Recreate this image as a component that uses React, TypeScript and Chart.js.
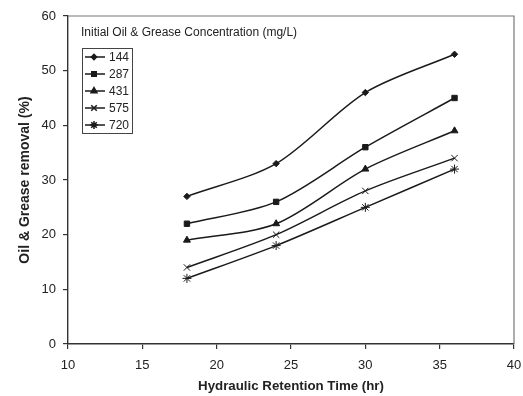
import React, { useEffect, useRef } from "react";
import { Chart, registerables } from "chart.js";
import { drawPoint } from "chart.js/helpers";

Chart.register(...registerables);

const hrt = [18, 24, 30, 36];
const seriesLabels = ["144", "287", "431", "575", "720"];
const s144 = [27, 33, 46, 53];
const s287 = [22, 26, 36, 45];
const s431 = [19, 22, 32, 39];
const s575 = [14, 20, 28, 34];
const s720 = [12, 18, 25, 32];
const seriesValues = [s144, s287, s431, s575, s720];
const pointStyles = ["rectRot", "rect", "triangle", "crossRot", "star"];
const pointRadii = [3.2, 3.8, 4, 4.5, 4.5];
const legendTitle = "Initial Oil & Grease Concentration (mg/L)";
const xTitle = "Hydraulic Retention Time (hr)";
const yTitle = "Oil & Grease removal (%)";

const FONT = "'Liberation Sans', Arial, sans-serif";
const INK = "#1a1a1a";

const boxLegend = {
  id: "boxLegend",
  afterDraw(chart: any) {
    const { ctx, chartArea } = chart;
    ctx.save();
    // plot frame top/right
    ctx.strokeStyle = "#777";
    ctx.lineWidth = 1.2;
    ctx.beginPath();
    ctx.moveTo(chartArea.left, chartArea.top);
    ctx.lineTo(chartArea.right, chartArea.top);
    ctx.lineTo(chartArea.right, chartArea.bottom);
    ctx.stroke();

    // y axis title
    ctx.save();
    ctx.translate(25, (chartArea.top + chartArea.bottom) / 2);
    ctx.rotate(-Math.PI / 2);
    ctx.fillStyle = "#222";
    ctx.font = `bold 14px ${FONT}`;
    ctx.textAlign = "center";
    ctx.textBaseline = "middle";
    ctx.fillText(yTitle, 0, 0);
    ctx.restore();

    const x0 = chartArea.left + 13;
    ctx.fillStyle = "#222";
    ctx.font = `12px ${FONT}`;
    ctx.textBaseline = "middle";
    ctx.textAlign = "left";
    ctx.fillText(legendTitle, x0, chartArea.top + 17);

    const boxTop = chartArea.top + 32;
    const rowH = 17;
    const boxW = 50;
    const boxH = 85;
    ctx.strokeStyle = "#444";
    ctx.lineWidth = 1;
    ctx.strokeRect(x0 + 1.5, boxTop + 0.5, boxW, boxH);
    ctx.font = `12px ${FONT}`;
    seriesLabels.forEach((lab, i) => {
      const y = boxTop + 9 + i * rowH;
      ctx.strokeStyle = INK;
      ctx.lineWidth = 1.5;
      ctx.beginPath();
      ctx.moveTo(x0 + 4, y);
      ctx.lineTo(x0 + 24, y);
      ctx.stroke();
      ctx.fillStyle = INK;
      drawPoint(ctx, { pointStyle: pointStyles[i], radius: pointRadii[i] - 0.6, borderWidth: 1 }, x0 + 13, y);
      ctx.fillStyle = "#222";
      ctx.fillText(lab, x0 + 28, y + 0.5);
    });
    ctx.restore();
  },
};

export default function App() {
  const ref = useRef<HTMLCanvasElement | null>(null);
  useEffect(() => {
    if (!ref.current) return;
    const chart = new Chart(ref.current, {
      type: "line",
      data: {
        datasets: seriesLabels.map((lab, i) => ({
          label: lab,
          data: hrt.map((x, j) => ({ x, y: seriesValues[i][j] })),
          borderColor: INK,
          backgroundColor: INK,
          borderWidth: 1.5,
          pointStyle: pointStyles[i],
          pointRadius: pointRadii[i],
          pointBorderWidth: 1,
          tension: 0.3,
          fill: false,
        })),
      },
      options: {
        animation: false,
        responsive: false,
        maintainAspectRatio: false,
        layout: { padding: { left: 0, right: 9, top: 16, bottom: 0 } },
        plugins: { legend: { display: false }, tooltip: { enabled: false } },
        scales: {
          x: {
            type: "linear",
            min: 10,
            max: 40,
            ticks: { stepSize: 5, color: "#222", font: { family: FONT, size: 13 }, padding: 9, maxRotation: 0 },
            grid: { drawOnChartArea: false, tickLength: 5, color: "#333", lineWidth: 1.2 },
            border: { color: "#333", width: 1.4 },
            title: { display: true, text: xTitle, color: "#222", font: { family: FONT, size: 13.3, weight: "bold" }, padding: { top: 4, bottom: 2 } },
            afterFit: (s: any) => { s.height = 52; s.paddingRight = 0; s.paddingLeft = 0; },
          },
          y: {
            min: 0,
            max: 60,
            ticks: { stepSize: 10, color: "#222", font: { family: FONT, size: 13 }, padding: 7 },
            grid: { drawOnChartArea: false, tickLength: 5, color: "#333", lineWidth: 1.2 },
            border: { color: "#333", width: 1.4 },
            title: { display: false },
            afterFit: (s: any) => { s.width = 68; s.paddingTop = 0; s.paddingBottom = 0; },
          },
        },
      },
      plugins: [boxLegend],
    } as any);
    return () => chart.destroy();
  }, []);
  return (
    <div style={{ position: "absolute", left: 0, top: 0, width: 523, height: 396, background: "#fff" }}>
      <canvas ref={ref} width={523} height={396} style={{ display: "block" }} />
    </div>
  );
}
